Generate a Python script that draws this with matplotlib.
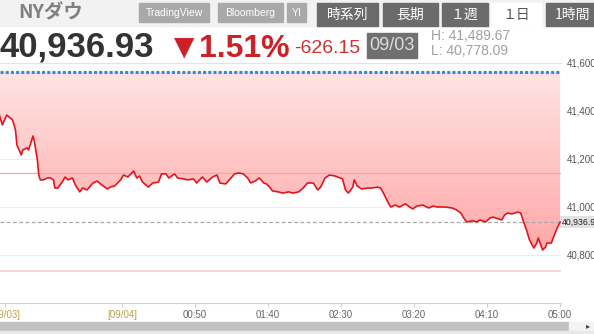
import numpy as np
import matplotlib
matplotlib.use('Agg')
from matplotlib import pyplot as plt
from matplotlib.colors import LinearSegmentedColormap
from matplotlib.patches import Rectangle, Polygon

plt.rcParams['font.family'] = ['Liberation Sans', 'Noto Sans CJK JP', 'DejaVu Sans']

# NY Dow, 1-day chart. minutes from 00:00 on 09/04 (negative = evening of 09/03)
minutes = [-84, -82, -79, -75, -73, -72, -69, -68, -65, -64, -61, -60, -58, -57, -56,
           -54, -51, -49, -47, -46, -44, -41, -39, -37, -34, -32, -29, -27, -24, -20,
           -17, -14, -10, -8, -5, -1, 1, 4, 8, 10, 12, 14, 18, 21, 25, 27, 30, 32, 36,
           38, 42, 45, 49, 51, 55, 58, 62, 65, 67, 71, 74, 77, 80, 83, 86, 88, 91, 94,
           97, 99, 101, 103, 107, 110, 114, 117, 121, 124, 127, 131, 134, 136, 139, 142,
           146, 151, 153, 155, 158, 159, 161, 164, 168, 171, 175, 177, 179, 182, 184,
           187, 190, 194, 197, 199, 202, 206, 210, 213, 216, 221, 226, 229, 232, 234,
           236, 240, 243, 245, 249, 252, 254, 258, 260, 262, 264, 267, 271, 273, 275,
           277, 279, 282, 284, 285, 288, 290, 291, 294, 296, 298, 300]
prices = [41383, 41342, 41383, 41363, 41321, 41258, 41217, 41238, 41246, 41238, 41296,
          41271, 41196, 41133, 41113, 41113, 41121, 41121, 41113, 41079, 41079, 41104,
          41125, 41113, 41121, 41092, 41063, 41079, 41071, 41100, 41108, 41092, 41075,
          41083, 41088, 41113, 41133, 41125, 41150, 41121, 41129, 41104, 41083, 41100,
          41104, 41138, 41138, 41121, 41138, 41121, 41117, 41113, 41117, 41100, 41125,
          41104, 41125, 41133, 41100, 41096, 41117, 41138, 41142, 41138, 41121, 41100,
          41108, 41121, 41100, 41096, 41083, 41067, 41063, 41058, 41063, 41058, 41063,
          41079, 41100, 41100, 41071, 41083, 41121, 41133, 41129, 41117, 41071, 41058,
          41083, 41113, 41088, 41075, 41079, 41079, 41083, 41079, 41058, 41021, 41000,
          41008, 41000, 41013, 41000, 40992, 41004, 41008, 40996, 41004, 41000, 41000,
          40996, 40988, 40975, 40954, 40938, 40942, 40938, 40946, 40938, 40954, 40958,
          40950, 40946, 40967, 40975, 40971, 40979, 40975, 40938, 40904, 40863, 40829,
          40850, 40871, 40821, 40833, 40850, 40850, 40883, 40913, 40937]

last_price = 40936.93
prev_close = 41563.08
change = -626.15
change_pct = -1.51
day_high = 41489.67
day_low = 40778.09
date_label = '09/03'
band_upper = 41143
band_lower = 40735

y_ticks = [40800, 41000, 41200, 41400, 41600]
x_ticks = [-80, 0, 50, 100, 150, 200, 250, 300]
x_labels = ['[09/03]', '[09/04]', '00:50', '01:40', '02:30', '03:20', '04:10', '05:00']
sources = ['TradingView', 'Bloomberg', 'YI']
tabs = ['時系列', '長期', '１週', '１日', '1時間']
active_tab = '１日'

W, H = 594, 334
fig = plt.figure(figsize=(W / 100, H / 100), dpi=100)

# page furniture drawn in pixel coordinates
bg = fig.add_axes([0, 0, 1, 1])
bg.set_xlim(0, W)
bg.set_ylim(H, 0)
bg.axis('off')

bg.add_patch(Rectangle((0, 0), W, 26, color='#f2f2f2'))
bg.text(18, 13, 'NYダウ', fontsize=14, fontweight='bold', color='#808080',
        va='center', family=['Noto Sans CJK JP'])

src_spans = [(139, 209), (218, 283), (287, 306)]
for (x0, x1), name in zip(src_spans, sources):
    bg.add_patch(Rectangle((x0, 3), x1 - x0, 19, color='#a9a9a9'))
    bg.text((x0 + x1) / 2, 12.5, name, fontsize=7.5, color='white', ha='center', va='center')

tab_spans = [(317, 378), (383, 438), (442, 488), (491, 541), (546, 600)]
for (x0, x1), name in zip(tab_spans, tabs):
    on = name == active_tab
    bg.add_patch(Rectangle((x0, 3), x1 - x0, 23, color='white' if on else '#6b6b6b'))
    bg.text((x0 + x1) / 2, 14.5, name, fontsize=10, color='#555555' if on else 'white',
            ha='center', va='center', family=['Noto Sans CJK JP'])

red = '#cc2127'
bg.text(-1, 57, f'{last_price:,.2f}', fontsize=25, fontweight='bold', color='#333333', va='baseline')
bg.text(167, 58, '▼', fontsize=25, color=red, va='baseline')
bg.text(199, 57, f'{abs(change_pct):.2f}%', fontsize=23, fontweight='bold', color=red, va='baseline')
bg.text(294, 53, f'{change:,.2f}', fontsize=14, color='#d22f2f', va='baseline')
bg.add_patch(Rectangle((367, 33), 50, 25, color='#707070'))
bg.text(392, 46, date_label, fontsize=13, color='#dcdcdc', ha='center', va='center')
bg.text(431, 36, f'H: {day_high:,.2f}', fontsize=10, color='#a0a0a0', va='center')
bg.text(431, 51, f'L: {day_low:,.2f}', fontsize=10, color='#a0a0a0', va='center')

# scroll bar
bg.add_patch(Rectangle((0, 322), 569, 9, color='#c2c2c2'))
bg.add_patch(Rectangle((569, 322), W - 569, 9, color='#f4f4f4'))
bg.add_patch(Rectangle((0, 331), W, 3, color='#e9e9e9'))
bg.text(588, 326.5, '▸', fontsize=6, color='#444444', ha='center', va='center')

# chart
ax = fig.add_axes([0, 1 - 303 / H, 561 / W, 240 / H])
t = np.array(minutes)
p = np.array(prices)

for v in y_ticks[:-1]:
    ax.axhline(v, color='#ececec', lw=0.8, zorder=0)

cmap = LinearSegmentedColormap.from_list('fade', ['#ffa8a8', '#ffe4e4'])
img = ax.imshow(np.linspace(0, 1, 256).reshape(-1, 1), origin='lower', cmap=cmap,
                extent=[t[0], t[-1], p.min(), prev_close], aspect='auto', zorder=1)
area = Polygon(np.column_stack([np.r_[t, t[-1], t[0]], np.r_[p, prev_close, prev_close]]),
               closed=True, fc='none', ec='none')
ax.add_patch(area)
img.set_clip_path(area)

ax.axhline(band_upper, color='#f2a8a8', lw=0.9, zorder=2)
ax.axhline(band_lower, color='#f9cccc', lw=1.2, zorder=2)
ax.axhline(prev_close, color='#2a8ee0', lw=2.2, ls=(0, (1, 0.7)), zorder=3)
ax.axhline(last_price, color='#a8a8a8', lw=0.9, ls=(0, (3, 2)), zorder=3)
ax.plot(t, p, color='#e5141c', lw=1.2, zorder=4)

ax.set_xlim(-83.6, 300.6)
ax.set_ylim(40600, 41600)

ax.yaxis.tick_right()
ax.set_yticks(y_ticks)
ax.set_yticklabels([f'{v:,}' for v in y_ticks])
ax.tick_params(axis='y', length=0, pad=4, labelsize=7, labelcolor='#555555')
ax.set_xticks(x_ticks)
ax.set_xticklabels(x_labels)
ax.tick_params(axis='x', length=3, color='#c5d3e3', labelsize=7, labelcolor='#666666', pad=2)
for lbl in ax.get_xticklabels()[:2]:
    lbl.set_color('#b9a24a')

ax.spines['left'].set_visible(False)
ax.spines['right'].set_visible(False)
ax.spines['top'].set_color('#e4e4e4')
ax.spines['top'].set_linewidth(0.8)
ax.spines['bottom'].set_color('#c5d3e3')

ax.text(1.002, last_price, f'{last_price:,.2f}', transform=ax.get_yaxis_transform(),
        ha='left', va='center', fontsize=6.3, color='#222222', clip_on=False,
        bbox=dict(boxstyle='square,pad=0.2', fc='#e2e2e2', ec='none'))

fig.savefig('out.png', dpi=100)
